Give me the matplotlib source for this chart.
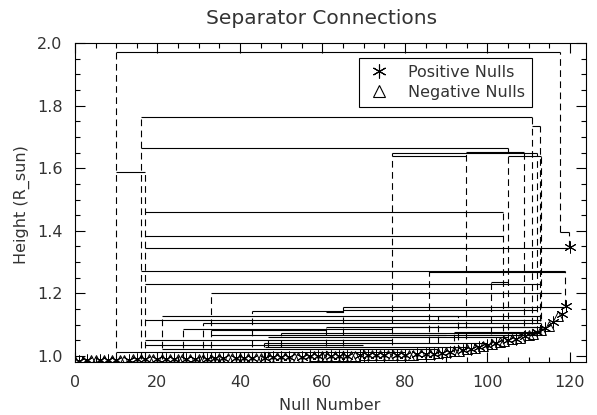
import numpy as np
import matplotlib.pyplot as plt
from matplotlib.lines import Line2D
from matplotlib.ticker import MultipleLocator

# null heights (R_sun), indexed by null number 0..120
heights = [
    0.984, 0.985, 0.985, 0.986, 0.986, 0.986, 0.987, 0.987, 0.987, 0.987,
    0.988, 0.988, 0.988, 0.988, 0.989, 0.989, 0.989, 0.989, 0.989, 0.990,
    0.990, 0.990, 0.990, 0.990, 0.991, 0.991, 0.991, 0.991, 0.991, 0.992,
    0.992, 0.992, 0.992, 0.992, 0.993, 0.993, 0.993, 0.993, 0.993, 0.994,
    0.994, 0.994, 0.994, 0.995, 0.995, 0.995, 0.995, 0.996, 0.996, 0.996,
    0.996, 0.997, 0.997, 0.997, 0.998, 0.998, 0.998, 0.999, 0.999, 0.999,
    0.999, 1.000, 1.000, 1.000, 1.000, 1.001, 1.001, 1.001, 1.001, 1.002,
    1.002, 1.002, 1.002, 1.002, 1.003, 1.003, 1.003, 1.003, 1.003, 1.003,
    1.003, 1.004, 1.004, 1.005, 1.006, 1.006, 1.007, 1.008, 1.009, 1.010,
    1.012, 1.013, 1.015, 1.017, 1.019, 1.021, 1.023, 1.026, 1.029, 1.032,
    1.035, 1.038, 1.041, 1.044, 1.047, 1.050, 1.053, 1.056, 1.059, 1.063,
    1.067, 1.072, 1.078, 1.084, 1.090, 1.097, 1.110, 1.128, 1.135, 1.161,
    1.348]

# p = positive null, n = negative null
signs = ("npnpnnpnpn" "pnnpnpnpnn" "pnpnpnnpnp" "nnpnpnpnnp"
         "npnpnnpnpn" "pnpnnpnpnp" "nnpnpnpnnp" "npnpnpnnpn"
         "pnnpnpnpnp" "npnnpnpnpn" "pnpnnpnpnp" "nnpnpnpnpp" "p")

# separator connections: horizontal runs at the connection height
hx0 = [10.0, 16.1, 110.8, 16.1, 94.9, 76.9, 76.9, 104.9, 10.0, 16.9,
       16.9, 117.5, 16.9, 16.1, 85.9, 100.8, 16.9, 33.0, 65.0, 43.0,
       60.9, 64.9, 21.1, 88.0, 16.9, 31.1, 26.1, 76.9, 33.0, 60.9,
       91.9, 50.0, 76.9, 33.0, 46.9, 16.9, 45.9, 46.1, 16.9, 10.0,
       21.0]
hx1 = [117.5, 110.8, 112.7, 104.9, 108.9, 111.9, 94.9, 112.9, 17.0, 103.8,
       103.8, 119.8, 119.8, 118.9, 118.9, 104.9, 112.7, 117.8, 118.9, 65.0,
       65.0, 112.0, 92.9, 112.7, 113.0, 113.0, 76.9, 113.0, 60.9, 112.0,
       113.0, 113.0, 112.0, 90.0, 105.0, 76.9, 100.0, 95.0, 69.9, 80.0,
       88.0]
hy = [1.972, 1.764, 1.736, 1.665, 1.653, 1.649, 1.639, 1.639, 1.589, 1.460,
      1.383, 1.397, 1.345, 1.271, 1.268, 1.236, 1.230, 1.200, 1.158, 1.143,
      1.141, 1.147, 1.128, 1.128, 1.115, 1.104, 1.088, 1.094, 1.083, 1.092,
      1.078, 1.073, 1.068, 1.067, 1.062, 1.051, 1.043, 1.030, 1.035, 1.014,
      1.022]

# dashed legs from each null up to its connection
vx = [10.0, 16.1, 16.9, 21.1, 26.1, 31.1, 33.0, 43.0, 45.9, 46.9,
      50.0, 60.9, 65.0, 69.9, 76.9, 85.9, 88.0, 91.9, 92.9, 94.9,
      100.8, 103.8, 104.9, 108.9, 110.8, 111.9, 112.7, 112.9, 117.5, 119.8,
      118.9]
vy0 = [0.990, 0.990, 0.990, 0.990, 0.990, 0.990, 0.990, 0.995, 0.995, 0.995,
       0.995, 0.998, 0.998, 1.000, 1.000, 1.005, 1.008, 1.012, 1.015, 1.020,
       1.035, 1.044, 1.047, 1.060, 1.067, 1.072, 1.078, 1.084, 1.397, 1.348,
       1.161]
vy1 = [1.972, 1.764, 1.589, 1.128, 1.088, 1.104, 1.200, 1.143, 1.043, 1.062,
       1.073, 1.092, 1.158, 1.035, 1.649, 1.271, 1.128, 1.078, 1.128, 1.653,
       1.236, 1.460, 1.665, 1.653, 1.764, 1.649, 1.736, 1.639, 1.972, 1.397,
       1.271]

plt.rcParams.update({'font.family': 'DejaVu Sans',
                     'text.color': '#333333'})

fig = plt.figure(figsize=(5.97, 4.15), dpi=100)
ax = fig.add_axes([75/597, 1 - 362/415, 511/597, 319/415])

idx = np.arange(len(heights))
h = np.array(heights)
pos = np.array([s == 'p' for s in signs])

ax.hlines(hy, hx0, hx1, color='k', lw=0.8)
ax.vlines(vx, vy0, vy1, color='k', lw=0.8, linestyles=(0, (6, 4)))

ax.plot(idx[~pos], h[~pos], ls='none', marker='^', ms=7, mfc='none',
        mec='k', mew=0.7)
ax.plot(idx[pos], h[pos], ls='none', marker=(6, 2, 0), ms=8.5, mec='k', mew=0.7)

ax.set_xlim(0, 123.9)
ax.set_ylim(0.981, 2.0)
ax.xaxis.set_major_locator(MultipleLocator(20))
ax.xaxis.set_minor_locator(MultipleLocator(5))
ax.yaxis.set_major_locator(MultipleLocator(0.2))
ax.yaxis.set_minor_locator(MultipleLocator(0.05))
ax.tick_params(which='both', direction='in', top=True, right=True,
               labelsize=11.5, labelcolor='#333333', width=0.8)
ax.tick_params(which='major', length=7, pad=9)
ax.tick_params(which='minor', length=3.5)
ax.yaxis.set_major_formatter(plt.FormatStrFormatter('%.1f'))
for s in ax.spines.values():
    s.set_linewidth(0.8)

handles = [Line2D([], [], ls='none', marker=(6, 2, 0), ms=10, mec='k', mew=0.8),
           Line2D([], [], ls='none', marker='^', ms=8, mfc='none', mec='k', mew=0.8)]
leg = ax.legend(handles, ['Positive Nulls', 'Negative Nulls'], loc='upper right',
                bbox_to_anchor=((532 - 75) / 511, (362 - 57.7) / 319),
                frameon=True, fancybox=False, edgecolor='k', framealpha=1,
                borderaxespad=0, fontsize=11.5, handletextpad=1.0,
                handlelength=1.6, borderpad=0.45, labelspacing=0.3)
leg.get_frame().set_linewidth(0.8)

fig.text(322/597, 1 - 18/415, 'Separator Connections', ha='center', va='center',
         fontsize=14.5)
fig.text(330/597, 1 - 405/415, 'Null Number', ha='center', va='center',
         fontsize=11.5)
fig.text(22/597, 1 - 205/415, 'Height (R_sun)', ha='center', va='center',
         rotation=90, fontsize=11.5)

fig.savefig('out.png', dpi=100)
